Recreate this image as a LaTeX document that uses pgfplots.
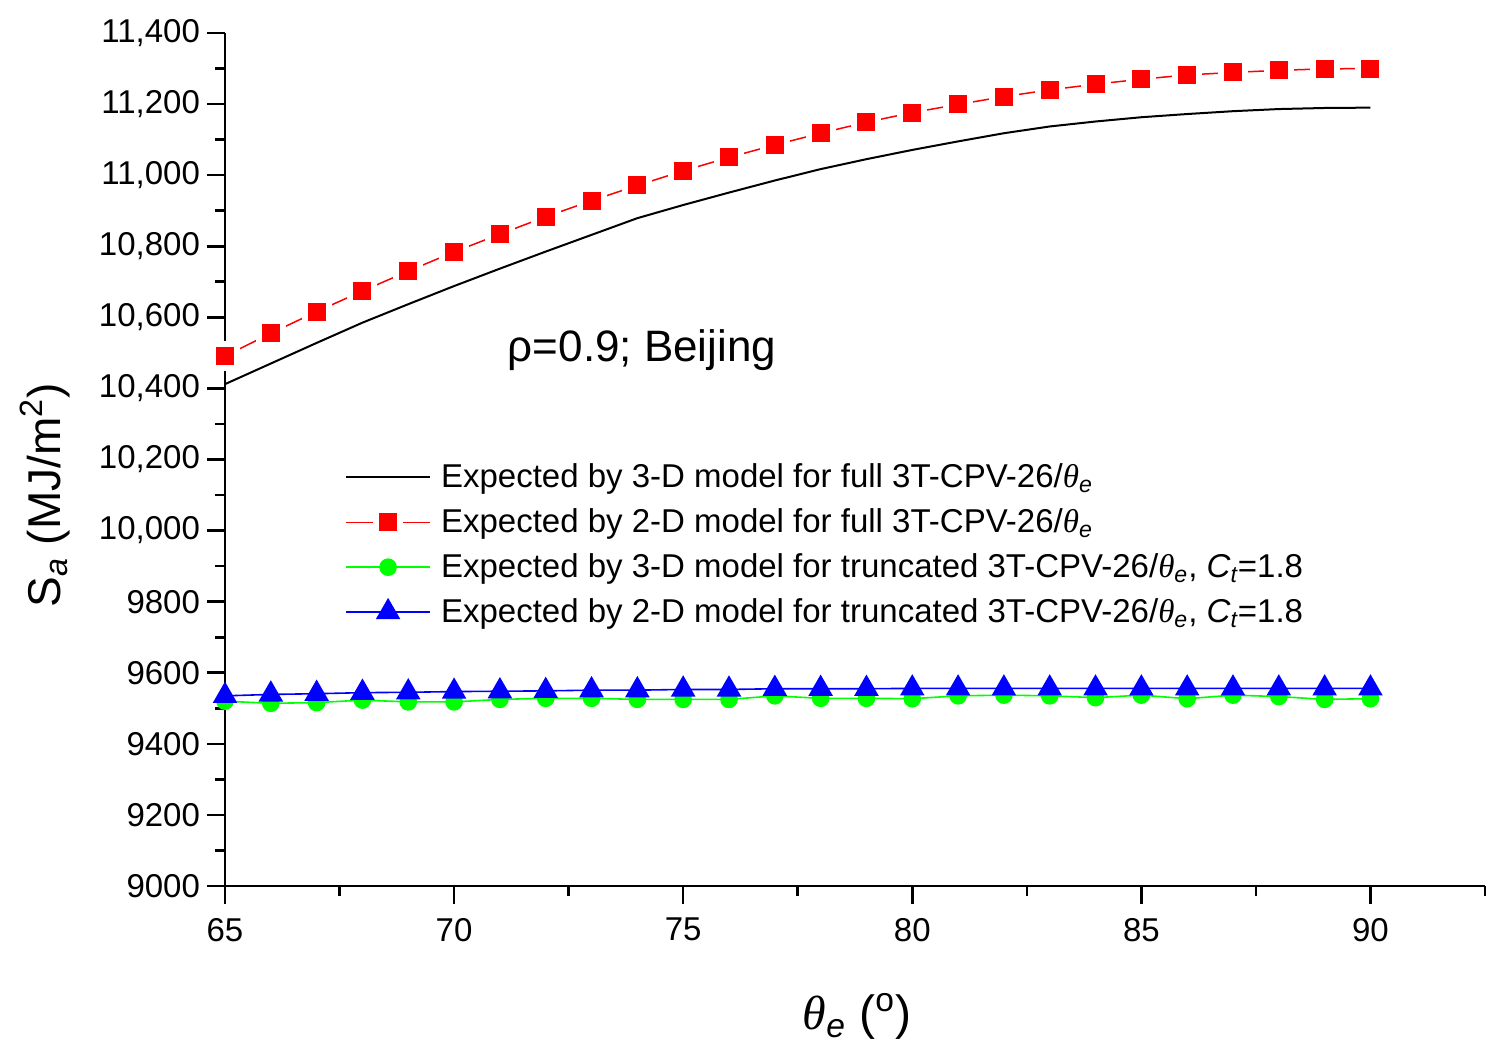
\documentclass[border=0pt]{standalone}
\usepackage{fontspec}
\setmainfont{Liberation Sans}
\newfontfamily\grk{Liberation Serif}
\usepackage{pgfplots}
\pgfplotsset{compat=1.18}
\begin{document}
\begin{tikzpicture}
\useasboundingbox (-112.5pt,-87pt) rectangle (640.5pt,443pt);
\begin{axis}[
  at={(0,0)}, anchor=south west,
  scale only axis, width=630pt, height=426.5pt,
  xmin=65, xmax=92.5, ymin=9000, ymax=11400,
  scaled y ticks=false, scaled x ticks=false,
  axis x line*=bottom, axis y line*=left,
  axis line style={line width=1.3pt, -},
  tick align=outside,
  major tick length=9pt, minor tick length=5pt,
  tick style={line width=1.3pt, black},
  minor tick style={line width=1.3pt, black},
  xtick={65,70,...,90}, minor xtick={67.5,72.5,...,92.5},
  ytick={9000,9200,...,11400}, minor ytick={9100,9300,...,11300},
  yticklabels={9000,9200,9400,9600,9800,{10,000},{10,200},{10,400},{10,600},{10,800},{11,000},{11,200},{11,400}},
  tick label style={font=\fontsize{16.5}{19}\selectfont},
  xticklabel style={yshift=-3.5pt},
  /pgf/number format/assume math mode=true,
  clip=false,
  ylabel={S\textsubscript{\itshape a} (MJ/m\textsuperscript{2})},
  ylabel style={at={(axis description cs:-0.143,0.458)}, anchor=center, font=\fontsize{23}{27}\selectfont},
  xlabel={{\grk\itshape θ}\textsubscript{\itshape e} (\textsuperscript{o})},
  xlabel style={at={(axis description cs:0.5016,-0.153)}, anchor=center, font=\fontsize{24}{28}\selectfont},
  legend style={at={(axis description cs:0.095,0.50)}, anchor=north west, draw=none, fill=none,
    font=\fontsize{16.5}{20}\selectfont, row sep=5pt, inner sep=0pt,
    /tikz/every odd column/.append style={column sep=3pt}},
  legend cell align=left,
  legend image code/.code={\draw[mark repeat=2,mark phase=2,#1] plot coordinates {(0pt,0pt)(21pt,0pt)(42pt,0pt)};},
]
\addplot[black, line width=1pt] coordinates {
(65,10412)(66,10470)(67,10528)(68,10585)(69,10637)(70,10688)(71,10737)(72,10785)(73,10832)(74,10879)
(75,10916)(76,10951)(77,10985)(78,11017)(79,11045)(80,11071)(81,11095)(82,11118)(83,11137)(84,11151)
(85,11163)(86,11172)(87,11180)(88,11186)(89,11189)(90,11190)};
\addlegendentry{Expected by 3-D model for full 3T-CPV-26/{\grk\itshape θ}\textsubscript{\itshape e}}
\addplot[red, line width=0.75pt, mark=square*, mark size=6pt, mark options={solid, fill=red, draw=white, line width=3pt}] coordinates {
(65,10491)(66,10555)(67,10616)(68,10674)(69,10730)(70,10784)(71,10834)(72,10883)(73,10928)(74,10971)
(75,11012)(76,11050)(77,11085)(78,11118)(79,11149)(80,11176)(81,11199)(82,11221)(83,11240)(84,11256)
(85,11270)(86,11282)(87,11289)(88,11295)(89,11299)(90,11300)};
\addlegendentry{Expected by 2-D model for full 3T-CPV-26/{\grk\itshape θ}\textsubscript{\itshape e}}
\addplot[green, line width=0.8pt, mark=*, mark size=4pt, mark options={solid, fill=green, draw=green}] coordinates {
(65,9520)(66,9514)(67,9516)(68,9523)(69,9518)(70,9518)(71,9525)(72,9528)(73,9528)(74,9525)
(75,9525)(76,9525)(77,9535)(78,9528)(79,9528)(80,9527)(81,9535)(82,9537)(83,9535)(84,9530)
(85,9537)(86,9527)(87,9537)(88,9533)(89,9525)(90,9527)};
\addlegendentry{Expected by 3-D model for truncated 3T-CPV-26/{\grk\itshape θ}\textsubscript{\itshape e}, {\itshape C}\textsubscript{\itshape t}=1.8}
\addplot[blue, line width=0.8pt, mark=triangle*, mark size=6.3pt, mark options={solid, fill=blue, draw=blue}] coordinates {
(65,9535)(66,9539)(67,9541)(68,9544)(69,9545)(70,9547)(71,9548)(72,9549)(73,9551)(74,9551)
(75,9553)(76,9553)(77,9555)(78,9555)(79,9555)(80,9556)(81,9556)(82,9556)(83,9556)(84,9556)
(85,9556)(86,9556)(87,9556)(88,9556)(89,9556)(90,9556)};
\addlegendentry{Expected by 2-D model for truncated 3T-CPV-26/{\grk\itshape θ}\textsubscript{\itshape e}, {\itshape C}\textsubscript{\itshape t}=1.8}
\node[font=\fontsize{22}{26}\selectfont] at (axis description cs:0.331,0.628) {ρ=0.9; Beijing};
\end{axis}
\end{tikzpicture}
\end{document}
